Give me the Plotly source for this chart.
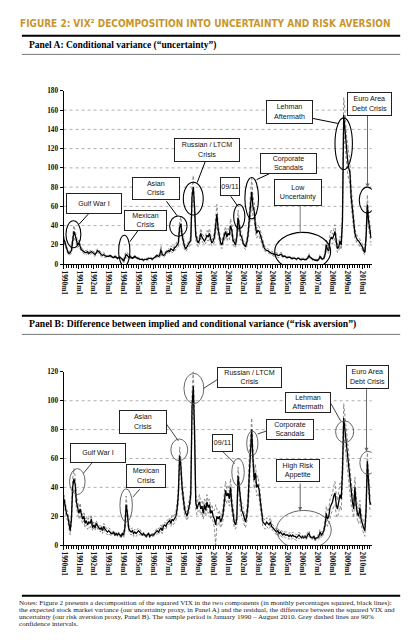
import plotly.graph_objects as go

W, H = 412, 640

# ---------------- DATA (monthly, 1990m1 .. 2010m8) ----------------
year_ticks = [f"{y}m1" for y in range(1990, 2011)]

# Panel A: conditional variance ("uncertainty")
unc = [
    26, 22, 16, 13, 11, 12, 14, 25, 34, 30, 24, 20,   # 1990
    22, 18, 15, 14, 13, 12, 12, 13, 11, 12, 13, 12,   # 1991
    11, 10, 12, 14, 13, 11, 10, 9, 10, 9, 8, 8,       # 1992
    8, 9, 8, 7, 7, 8, 7, 6, 7, 7, 6, 5,               # 1993
    3, 8, 10, 9, 7, 8, 7, 6, 7, 8, 7, 6,              # 1994
    6, 5, 5, 5, 4, 5, 5, 5, 6, 6, 6, 5,               # 1995
    6, 7, 8, 9, 8, 9, 15, 10, 9, 10, 12, 13,          # 1996
    14, 13, 16, 15, 14, 17, 18, 20, 22, 38, 42, 30,   # 1997
    22, 18, 16, 18, 20, 22, 25, 70, 80, 60, 30, 25,   # 1998
    22, 25, 32, 28, 26, 24, 26, 30, 28, 32, 26, 22,   # 1999
    24, 28, 40, 52, 36, 28, 22, 20, 26, 30, 34, 28,   # 2000
    32, 30, 40, 35, 25, 22, 20, 28, 48, 40, 30, 28,   # 2001
    22, 20, 18, 22, 30, 45, 65, 75, 60, 55, 40, 32,   # 2002
    35, 34, 30, 26, 20, 17, 15, 14, 14, 13, 12, 11,   # 2003
    11, 10, 10, 10, 9, 9, 10, 10, 8, 8, 8, 7,         # 2004
    7, 7, 7, 6, 6, 6, 6, 5, 6, 6, 5, 5,               # 2005
    5, 5, 5, 5, 6, 9, 7, 6, 5, 5, 4, 4,               # 2006
    4, 5, 8, 6, 5, 6, 10, 20, 15, 14, 25, 28,         # 2007
    26, 30, 34, 24, 16, 18, 24, 20, 45, 155, 140, 120,  # 2008
    110, 100, 95, 70, 55, 40, 32, 28, 25, 24, 22, 20, # 2009
    18, 14, 12, 28, 62, 45, 34, 27,                   # 2010
]
unc_ci = [
    3, 3, 2, 2, 2, 2, 3, 5, 6, 5, 4, 3,
    3, 3, 2, 2, 2, 2, 2, 2, 2, 2, 2, 2,
    2, 2, 2, 2, 2, 2, 2, 2, 2, 2, 1, 1,
    1, 1, 1, 1, 1, 1, 1, 1, 1, 1, 1, 1,
    2, 2, 3, 3, 2, 2, 1, 1, 1, 1, 1, 1,
    1, 1, 1, 1, 1, 1, 1, 1, 1, 1, 1, 1,
    1, 1, 1, 2, 2, 2, 4, 2, 2, 2, 2, 2,
    2, 2, 3, 3, 2, 3, 3, 3, 4, 6, 7, 5,
    3, 3, 3, 3, 3, 3, 4, 10, 12, 8, 5, 4,
    4, 4, 5, 4, 4, 4, 4, 5, 4, 5, 4, 3,
    4, 5, 8, 10, 6, 5, 4, 4, 4, 5, 5, 4,
    5, 5, 7, 6, 4, 4, 3, 4, 8, 6, 5, 4,
    3, 3, 3, 4, 5, 8, 12, 14, 10, 9, 7, 5,
    5, 5, 5, 4, 3, 3, 2, 2, 2, 2, 2, 2,
    2, 2, 2, 2, 2, 2, 2, 2, 1, 1, 1, 1,
    1, 1, 1, 1, 1, 1, 1, 1, 1, 1, 1, 1,
    1, 1, 1, 1, 1, 2, 1, 1, 1, 1, 1, 1,
    1, 1, 2, 1, 1, 1, 2, 5, 4, 3, 6, 7,
    5, 6, 7, 5, 4, 4, 5, 5, 9, 18, 20, 16,
    14, 12, 12, 10, 8, 6, 5, 4, 4, 4, 4, 3,
    3, 3, 2, 5, 10, 8, 6, 5,
]

# Panel B: difference between implied and conditional variance ("risk aversion")
ra = [
    32, 26, 22, 20, 15, 10, 18, 40, 46, 42, 30, 26,   # 1990
    22, 25, 20, 18, 20, 15, 17, 14, 16, 15, 18, 12,   # 1991
    14, 12, 15, 13, 12, 11, 12, 10, 13, 11, 10, 9,    # 1992
    10, 9, 8, 8, 9, 7, 8, 7, 8, 7, 6, 8,              # 1993
    7, 12, 28, 22, 12, 10, 9, 10, 8, 9, 8, 9,         # 1994
    10, 9, 8, 7, 8, 7, 6, 7, 8, 6, 7, 7,              # 1995
    7, 8, 9, 10, 9, 11, 12, 10, 13, 14, 13, 15,       # 1996
    16, 17, 15, 18, 17, 19, 20, 25, 35, 62, 55, 40,   # 1997
    32, 25, 22, 20, 24, 28, 35, 95, 110, 80, 30, 25,  # 1998
    28, 30, 25, 27, 22, 28, 24, 30, 26, 28, 22, 24,   # 1999
    20, 18, 14, 20, 18, 20, 16, 18, 22, 32, 38, 34,   # 2000
    36, 32, 40, 28, 20, 16, 14, 18, 48, 40, 28, 24,   # 2001
    22, 18, 16, 20, 28, 48, 70, 80, 60, 45, 50, 40,   # 2002
    42, 38, 30, 22, 16, 15, 14, 16, 15, 14, 16, 13,   # 2003
    12, 11, 10, 9, 10, 8, 9, 8, 7, 8, 7, 7,           # 2004
    7, 6, 7, 6, 7, 6, 6, 5, 6, 7, 6, 5,               # 2005
    6, 5, 6, 5, 7, 8, 6, 5, 5, 6, 4, 5,               # 2006
    5, 6, 9, 7, 8, 10, 14, 22, 18, 20, 26, 28,        # 2007
    30, 34, 36, 28, 25, 30, 35, 32, 50, 88, 80, 70,   # 2008
    60, 55, 45, 35, 30, 25, 40, 28, 22, 20, 26, 18,   # 2009
    14, 12, 10, 24, 58, 40, 30, 28,                   # 2010
]
ra_ci = [
    3, 3, 3, 3, 3, 3, 4, 6, 7, 6, 4, 4,
    4, 4, 3, 3, 3, 3, 3, 3, 3, 3, 3, 2,
    2, 2, 2, 2, 2, 2, 2, 2, 2, 2, 2, 2,
    2, 2, 1, 1, 1, 1, 1, 1, 1, 1, 1, 1,
    2, 3, 6, 4, 2, 2, 2, 2, 2, 2, 2, 2,
    2, 2, 1, 1, 1, 1, 1, 1, 1, 1, 1, 1,
    1, 1, 2, 2, 2, 2, 2, 2, 2, 2, 2, 2,
    2, 2, 2, 3, 3, 3, 3, 4, 5, 6, 6, 5,
    4, 4, 3, 3, 4, 4, 5, 10, 12, 10, 6, 4,
    4, 5, 4, 4, 4, 4, 4, 5, 4, 4, 4, 4,
    4, 6, 14, 5, 4, 4, 4, 4, 4, 5, 6, 5,
    5, 5, 6, 5, 4, 4, 3, 4, 6, 6, 5, 4,
    4, 4, 4, 4, 5, 12, 8, 8, 7, 6, 6, 6,
    6, 5, 5, 4, 3, 3, 3, 3, 3, 3, 3, 2,
    2, 2, 2, 2, 2, 2, 2, 2, 2, 2, 2, 2,
    2, 2, 2, 2, 2, 2, 2, 2, 2, 2, 2, 1,
    1, 1, 1, 1, 2, 2, 1, 1, 1, 1, 1, 1,
    1, 2, 2, 2, 2, 2, 3, 5, 5, 5, 6, 6,
    6, 7, 8, 7, 6, 7, 8, 8, 10, 10, 10, 10,
    10, 9, 8, 7, 6, 6, 7, 6, 5, 5, 5, 4,
    4, 4, 4, 5, 6, 6, 5, 5,
]

# ---------------- helpers ----------------
def px(x):
    return x / W

def py(y):
    return 1 - y / H

t = list(range(len(unc)))
tickvals = [12 * i for i in range(len(year_ticks))]

fig = go.Figure()

BAND = dict(color="#8a8a8a", width=1, dash="3px,2px")
for ax_x, ax_y, vals, ci in [("x", "y", unc, unc_ci), ("x2", "y2", ra, ra_ci)]:
    hi = [v + c for v, c in zip(vals, ci)]
    lo = [max(v - c, 0) for v, c in zip(vals, ci)]
    fig.add_trace(go.Scatter(x=t, y=hi, mode="lines", line=BAND, xaxis=ax_x, yaxis=ax_y, hoverinfo="skip"))
    fig.add_trace(go.Scatter(x=t, y=lo, mode="lines", line=BAND, xaxis=ax_x, yaxis=ax_y, hoverinfo="skip"))
    fig.add_trace(go.Scatter(x=t, y=vals, mode="lines", line=dict(color="black", width=1.3), xaxis=ax_x, yaxis=ax_y))

XDOM = [52.1 / W, 363.2 / W]
TICKFONT = dict(family="Liberation Serif", size=7.3, color="#111", weight="bold")

def xaxis_cfg(anchor):
    return dict(
        domain=XDOM, anchor=anchor, range=[-0.3, 247.5],
        tickmode="array", tickvals=tickvals, ticktext=year_ticks, tickangle=90,
        ticks="outside", ticklen=4, tickwidth=1, tickcolor="black",
        minor=dict(dtick=2, tick0=0, ticks="outside", ticklen=3, tickwidth=0.8, tickcolor="black"),
        showline=True, linecolor="black", linewidth=1, showgrid=False, zeroline=False,
        tickfont=TICKFONT, fixedrange=True,
    )

def yaxis_cfg(anchor, dom, top):
    return dict(
        domain=dom, anchor=anchor, range=[0, top], dtick=20, tick0=0,
        ticks="outside", ticklen=3, tickcolor="black", showline=True, linecolor="black",
        linewidth=1, showgrid=False, zeroline=False, tickfont=TICKFONT, fixedrange=True,
    )

fig.update_layout(
    width=W, height=H, margin=dict(l=0, r=0, t=0, b=0),
    paper_bgcolor="white", plot_bgcolor="white", showlegend=False,
    xaxis=xaxis_cfg("y"), yaxis=yaxis_cfg("x", [1 - 255.7 / H, 1 - 80 / H], 180),
    xaxis2=xaxis_cfg("y2"), yaxis2=yaxis_cfg("x2", [1 - 540.7 / H, 1 - 365 / H], 120),
)

shapes = []
# dotted grid lines
for yref, levels in [("y", [20, 40, 60, 80, 100, 120, 140, 160]), ("y2", [20, 40, 60, 80, 100])]:
    xr = "x domain" if yref == "y" else "x2 domain"
    for lv in levels:
        shapes.append(dict(type="line", xref=xr, yref=yref, x0=0, x1=1, y0=lv, y1=lv,
                           line=dict(color="#b0b0b0", width=1, dash="dot"), layer="below"))

# header / footer rules
def hline(y, w, color, x0=10, x1=392):
    shapes.append(dict(type="line", xref="paper", yref="paper", x0=px(x0), x1=px(x1),
                       y0=py(y), y1=py(y), line=dict(color=color, width=w)))

hline(24, 2, "black"); hline(43, 1, "#777")
hline(308, 2, "black"); hline(327, 1, "#777")
hline(592, 2, "black")

# ellipses (data coordinates)
ellA = [(1.6, 13.6, 17, 45), (44, 53, -2, 30), (85, 99, 29, 50), (96, 112, 51, 85),
        (136.5, 145.5, 37, 62), (145.5, 156.5, 47, 90), (169.5, 214.5, -7, 33),
        (218, 232, 98, 152), (237.5, 250.5, 53, 80)]
ellB = [(4.5, 17, 35, 53), (45, 55, 16, 39), (86, 99.5, 58.5, 73.5), (96.5, 112.5, 98, 119),
        (135, 145, 41, 60), (147, 156, 62, 79), (171, 215, -3, 24),
        (218.5, 233, 71, 86), (238, 251, 49, 65)]
for (x0, x1, y0, y1) in ellA:
    shapes.append(dict(type="circle", xref="x", yref="y", x0=x0, x1=x1, y0=y0, y1=y1,
                       line=dict(color="black", width=1.1)))
for (x0, x1, y0, y1) in ellB:
    shapes.append(dict(type="circle", xref="x2", yref="y2", x0=x0, x1=x1, y0=y0, y1=y1,
                       line=dict(color="#555", width=0.9)))

# connector lines (page pixels)
conns = [((68, 215), (77, 205), "black"), ((119, 233), (127, 222), "black"),
         ((156, 192), (167, 207), "black"), ((187, 173), (195, 152), "black"),
         ((221, 187), (228, 197), "black"), ((247, 170), (260, 164), "black"),
         ((291, 197), (291, 224), "#777"), ((304, 108), (329, 113), "black"),
         ((72, 468), (81, 457), "#444"), ((122, 492), (129, 484), "#444"),
         ((156, 418), (168, 435), "#444"), ((193, 382), (207, 373), "#444"),
         ((213, 446), (225, 458), "#444"), ((248, 428), (257, 425), "#444"),
         ((322, 397), (332, 415), "#444")]
for (a, b, c) in conns:
    shapes.append(dict(type="line", xref="paper", yref="paper", x0=px(a[0]), y0=py(a[1]),
                       x1=px(b[0]), y1=py(b[1]), line=dict(color=c, width=1)))

fig.update_layout(shapes=shapes)

ann = []
# arrows with heads (tip, tail)
for tip, tail in [((359, 178), (359, 105)), ((291, 506), (291, 477)), ((358, 446), (358, 382))]:
    ann.append(dict(xref="paper", yref="paper", x=px(tip[0]), y=py(tip[1]), axref="pixel", ayref="pixel",
                    ax=tail[0] - tip[0], ay=tail[1] - tip[1], showarrow=True, arrowhead=2,
                    arrowsize=0.8, arrowwidth=1, arrowcolor="#666", text=""))

BOXFONT = dict(family="Liberation Sans", size=7.1, color="#111")
boxes = [
    (55, 111, 184, 205, "Gulf War I"), (113, 156, 201, 222, "Mexican<br>Crisis"),
    (121, 169, 168, 191, "Asian<br>Crisis"), (164, 230, 128, 152, "Russian / LTCM<br>Crisis"),
    (210, 230, 167, 186, "09/11"), (251, 308, 143, 164, "Corporate<br>Scandals"),
    (265, 313, 170, 197, "Low<br>Uncertainty"), (257, 304, 89, 113, "Lehman<br>Aftermath"),
    (338, 383, 81, 105, "Euro Area<br>Debt Crisis"),
    (59, 115, 437, 457, "Gulf War I"), (115, 155, 459, 483, "Mexican<br>Crisis"),
    (108, 156, 404, 428, "Asian<br>Crisis"), (207, 272, 360, 381, "Russian / LTCM<br>Crisis"),
    (202, 223, 428, 446, "09/11"), (257, 305, 413, 434, "Corporate<br>Scandals"),
    (267, 311, 454, 477, "High Risk<br>Appetite"), (276, 322, 386, 407, "Lehman<br>Aftermath"),
    (337, 380, 358, 382, "Euro Area<br>Debt Crisis"),
]
for (x0, x1, y0, y1, txt) in boxes:
    ann.append(dict(xref="paper", yref="paper", x=px((x0 + x1) / 2), y=py((y0 + y1) / 2),
                    xanchor="center", yanchor="middle", text=txt, showarrow=False,
                    width=x1 - x0 - 2, height=y1 - y0 - 2, borderpad=0,
                    bordercolor="#222", borderwidth=1, bgcolor="white", font=BOXFONT))

# titles
ann.append(dict(xref="paper", yref="paper", x=px(6), y=py(12), xanchor="left", yanchor="middle",
                showarrow=False, text="FIGURE 2: VIX² DECOMPOSITION INTO UNCERTAINTY AND RISK AVERSION",
                font=dict(family="Liberation Sans Narrow, DejaVu Sans Condensed", size=10,
                          color="#C8962C", weight="bold")))
ann.append(dict(xref="paper", yref="paper", x=px(15), y=py(33.5), xanchor="left", yanchor="middle",
                showarrow=False, text="Panel A: Conditional variance (“uncertainty”)",
                font=dict(family="Liberation Serif", size=9.5, color="black", weight="bold")))
ann.append(dict(xref="paper", yref="paper", x=px(15), y=py(316), xanchor="left", yanchor="middle",
                showarrow=False,
                text="Panel B: Difference between implied and conditional variance (“risk aversion”)",
                font=dict(family="Liberation Serif", size=9.7, color="black", weight="bold")))

notes = [
    "Notes: Figure 2 presents a decomposition of the squared VIX in the two components (in monthly percentages squared, black lines):",
    "the expected stock market variance (our uncertainty proxy, in Panel A) and the residual, the difference between the squared VIX and",
    "uncertainty (our risk aversion proxy, Panel B). The sample period is January 1990 \u2013 August 2010. Grey dashed lines are 90%",
    "confidence intervals.",
]
for i, line in enumerate(notes):
    ann.append(dict(xref="paper", yref="paper", x=px(5), y=py(599.5 + 7 * i), xanchor="left",
                    yanchor="middle", showarrow=False, text=line,
                    font=dict(family="Liberation Serif", size=7.1, color="#222")))

fig.update_layout(annotations=ann)
fig.write_html("out.html")
